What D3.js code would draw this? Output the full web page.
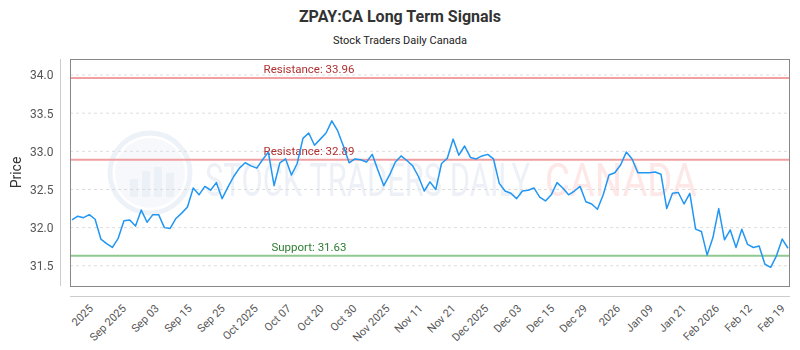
<!DOCTYPE html>
<html>
<head>
<meta charset="utf-8">
<script src="https://cdn.jsdelivr.net/npm/d3@7"></script>
<style>
  body { margin: 0; background: #fff; }
  svg { font-family: Roboto, "Noto Sans", sans-serif; }
</style>
</head>
<body>
<script>
// closing prices, one per trading session
var prices = [
  32.10, 32.15, 32.13, 32.17, 32.11, 31.85, 31.79, 31.74, 31.86, 32.09,
  32.10, 32.02, 32.23, 32.07, 32.17, 32.17, 32.00, 31.99, 32.12, 32.19,
  32.27, 32.52, 32.43, 32.54, 32.49, 32.59, 32.38, 32.53, 32.67, 32.78,
  32.85, 32.81, 32.78, 32.89, 32.99, 32.55, 32.85, 32.90, 32.69, 32.84,
  33.17, 33.24, 33.08, 33.16, 33.24, 33.40, 33.27, 33.07, 32.85, 32.90,
  32.89, 32.86, 32.96, 32.75, 32.55, 32.69, 32.86, 32.94, 32.88, 32.81,
  32.67, 32.48, 32.60, 32.50, 32.84, 32.91, 33.16, 32.95, 33.07, 32.92,
  32.90, 32.94, 32.96, 32.90, 32.58, 32.48, 32.45, 32.38, 32.48, 32.49,
  32.52, 32.40, 32.35, 32.43, 32.59, 32.52, 32.43, 32.48, 32.54, 32.34,
  32.31, 32.24, 32.43, 32.69, 32.72, 32.82, 32.99, 32.90, 32.72, 32.72,
  32.72, 32.73, 32.70, 32.25, 32.45, 32.46, 32.31, 32.45, 31.98, 31.95,
  31.64, 31.87, 32.25, 31.84, 31.97, 31.74, 31.98, 31.78, 31.74, 31.76,
  31.52, 31.48, 31.63, 31.85, 31.73
];

var tickLabels = ["2025", "Sep 2025", "Sep 03", "Sep 15", "Sep 25", "Oct 2025",
  "Oct 07", "Oct 20", "Oct 30", "Nov 2025", "Nov 11", "Nov 21", "Dec 2025",
  "Dec 03", "Dec 15", "Dec 29", "2026", "Jan 09", "Jan 21", "Feb 2026",
  "Feb 12", "Feb 19"];

var yTicks = [31.5, 32.0, 32.5, 33.0, 33.5, 34.0];

var levels = [
  {name: "Resistance", value: 33.96},
  {name: "Resistance", value: 32.89},
  {name: "Support", value: 31.63}
];

drawChart();

function drawChart(){

    var width = 800,
        height = 350;

    //plot box
    var left = 70, right = 790, top = 59, bottom = 286;

    var svg = d3.select("body")
        .append("svg")
        .attr("width", width)
        .attr("height", height);

    var x = d3.scaleLinear()
        .domain([0, prices.length - 1])
        .range([left + 2, right - 2]);

    var y = d3.scaleLinear()
        .domain([31.235, 34.21])
        .range([bottom, top]);

    //titles
    svg.append("text")
        .attr("x", width / 2)
        .attr("y", 22)
        .attr("text-anchor", "middle")
        .style("font-size", "16px")
        .style("font-weight", "bold")
        .style("fill", "#333")
        .text("ZPAY:CA Long Term Signals");

    svg.append("text")
        .attr("x", width / 2)
        .attr("y", 44)
        .attr("text-anchor", "middle")
        .style("font-size", "11px")
        .style("fill", "#222")
        .text("Stock Traders Daily Canada");

    //watermark
    var wm = svg.append("g").attr("opacity", 0.55);
    wm.append("circle")
        .attr("cx", 150).attr("cy", 173).attr("r", 40)
        .attr("fill", "none")
        .attr("stroke", "#dfe6f3")
        .attr("stroke-width", 5);
    wm.append("circle")
        .attr("cx", 150).attr("cy", 173).attr("r", 35)
        .attr("fill", "#eef2fa");
    [[-20, 18], [-8, 26], [4, 30], [16, 24]].forEach(function(b){
        wm.append("rect")
            .attr("x", 150 + b[0]).attr("y", 205 - b[1] - 8)
            .attr("width", 8).attr("height", b[1])
            .attr("fill", "#dde4f1");
    });
    //squeeze each word group to the width it has in the picture
    [["STOCK TRADERS DAILY", 205, 325, "#dfe5f0"], ["CANADA", 545, 152, "#fbd3d3"]].forEach(function(w){
        var g = wm.append("g");
        var t = g.append("text")
            .style("font-size", "46px")
            .style("fill", w[3])
            .text(w[0]);
        var len = t.node().getComputedTextLength();
        g.attr("transform", "translate(" + w[1] + ",196) scale(" + (w[2] / len) + ",1)");
    });

    //grid lines
    svg.append("g")
        .selectAll("line")
        .data(yTicks)
        .enter()
        .append("line")
        .attr("x1", left).attr("x2", right)
        .attr("y1", function(d){ return y(d); })
        .attr("y2", function(d){ return y(d); })
        .attr("stroke", "#ddd")
        .attr("stroke-dasharray", "3,3");

    //support and resistance
    var lv = svg.append("g")
        .selectAll("g")
        .data(levels)
        .enter()
        .append("g");

    lv.append("line")
        .attr("x1", left).attr("x2", right)
        .attr("y1", function(d){ return y(d.value); })
        .attr("y2", function(d){ return y(d.value); })
        .attr("stroke", function(d){ return d.name == "Support" ? "#8fc98f" : "#f0a0a0"; })
        .attr("stroke-width", 2);

    lv.append("text")
        .attr("x", 309)
        .attr("y", function(d){ return y(d.value) - 5; })
        .attr("text-anchor", "middle")
        .style("font-size", "11.5px")
        .style("fill", function(d){ return d.name == "Support" ? "#2e7d32" : "#b03030"; })
        .text(function(d){ return d.name + ": " + d.value.toFixed(2); });

    //price line
    var line = d3.line()
        .x(function(d, i){ return x(i); })
        .y(function(d){ return y(d); });

    svg.append("path")
        .datum(prices)
        .attr("fill", "none")
        .attr("stroke", "#2196f3")
        .attr("stroke-width", 1.5)
        .attr("stroke-linejoin", "round")
        .attr("d", line);

    //plot border
    svg.append("rect")
        .attr("x", left + 0.5).attr("y", top + 0.5)
        .attr("width", right - left - 1).attr("height", bottom - top)
        .attr("fill", "none")
        .attr("stroke", "#888");

    //y axis
    var yAxis = svg.append("g")
        .attr("transform", "translate(60.5,0)")
        .call(d3.axisLeft(y).tickValues(yTicks).tickSize(0).tickPadding(7)
            .tickFormat(d3.format(".1f")));
    yAxis.select(".domain").attr("stroke", "#ccc").attr("d", "M0," + top + "V" + bottom);
    yAxis.selectAll("text")
        .style("font-size", "12px")
        .style("fill", "#555")
        .style("font-family", "Roboto, sans-serif");

    svg.append("text")
        .attr("transform", "translate(21," + ((top + bottom) / 2) + ") rotate(-90)")
        .attr("text-anchor", "middle")
        .style("font-size", "14px")
        .style("fill", "#333")
        .text("Price");

    //x axis, labels every few sessions
    var tickPos = d3.range(tickLabels.length).map(function(i){ return 3.4 + i * 5.705; });

    var xAxis = svg.append("g")
        .attr("transform", "translate(0,296.5)")
        .call(d3.axisBottom(x).tickValues(tickPos).tickSize(0)
            .tickFormat(function(d, i){ return tickLabels[i]; }));
    xAxis.select(".domain").attr("stroke", "#ccc").attr("d", "M" + left + ",0H" + right);
    xAxis.selectAll("text")
        .attr("y", 0)
        .attr("dy", "0.35em")
        .attr("transform", "translate(-1,10) rotate(-45)")
        .attr("text-anchor", "end")
        .style("font-size", "11px")
        .style("fill", "#555")
        .style("font-family", "Roboto, sans-serif");
}
</script>
</body>
</html>
